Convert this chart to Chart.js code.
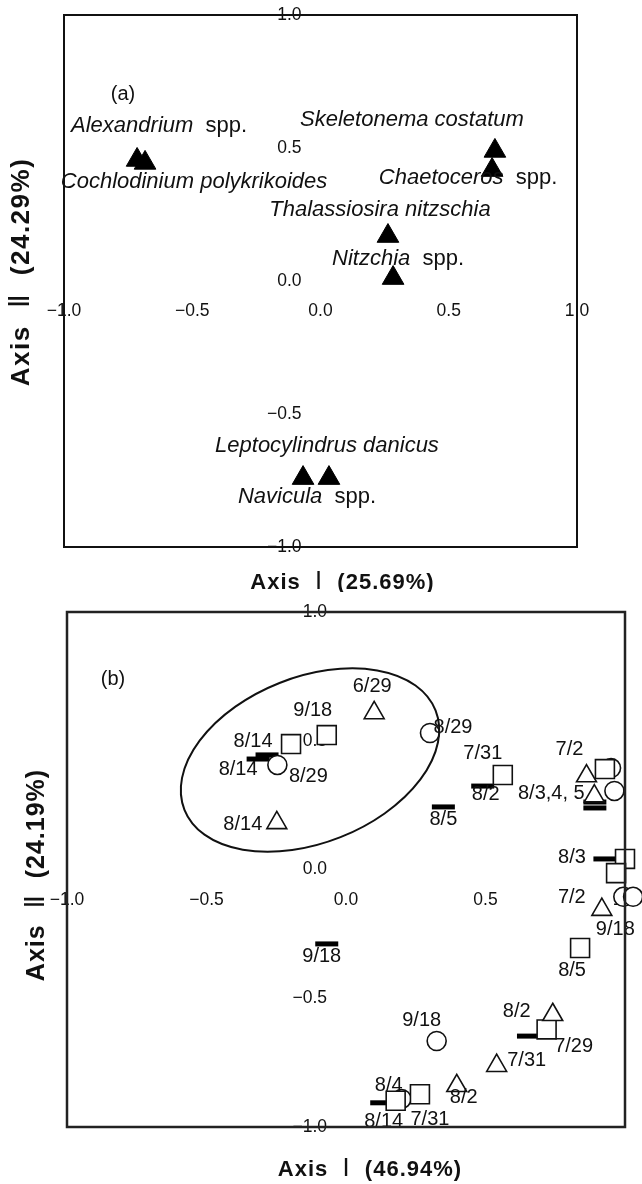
<!DOCTYPE html>
<html>
<head>
<meta charset="utf-8">
<title>CCA ordination</title>
<script src="https://cdn.jsdelivr.net/npm/chart.js@4.4.1/dist/chart.umd.min.js"></script>
<style>
  html, body { margin: 0; padding: 0; background: #fff; }
  canvas { display: block; }
</style>
</head>
<body>
<canvas id="chartSpecies" width="642" height="592"></canvas>
<canvas id="chartSamples" width="642" height="592"></canvas>
<script>
// ── (a) species scores ──
const speciesNames = [
  "Alexandrium spp.", "Cochlodinium polykrikoides", "Skeletonema costatum", "Chaetoceros spp.",
  "Thalassiosira nitzschia", "Nitzchia spp.", "Leptocylindrus danicus", "Navicula spp."
];
const speciesAxis1 = [-0.715, -0.684, 0.680, 0.669, 0.263, 0.283, 0.033, -0.068];
const speciesAxis2 = [0.455, 0.444, 0.489, 0.417, 0.169, 0.011, -0.741, -0.741];

// ── (b) sample scores, one set per station symbol ──
const circleAxis1 = [-0.246, 0.301, 0.950, 0.962, 0.994, 1.029, 0.325, 0.199];
const circleAxis2 = [0.406, 0.530, 0.394, 0.305, -0.106, -0.106, -0.666, -0.891];
const circleDates = ["8/29", "8/29", "", "", "9/18", "", "9/18", ""];

const squareAxis1 = [-0.069, -0.197, 0.562, 0.928, 1.000, 0.968, 0.839, 0.719, 0.265, 0.178];
const squareAxis2 = [0.522, 0.487, 0.367, 0.390, 0.041, -0.014, -0.305, -0.621, -0.873, -0.898];
const squareDates = ["9/18", "", "7/31", "", "", "", "8/5", "7/29", "7/31", "8/4"];

const triangleAxis1 = [0.101, -0.248, 0.862, 0.890, 0.917, 0.741, 0.540, 0.397];
const triangleAxis2 = [0.608, 0.181, 0.363, 0.285, -0.156, -0.564, -0.762, -0.840];
const triangleDates = ["6/29", "8/14", "7/2", "8/3,4, 5", "7/2", "8/2", "7/31", "8/2"];

const barAxis1 = [-0.283, -0.315, 0.490, 0.349, 0.892, 0.892, 0.928, 0.654, 0.128, -0.069];
const barAxis2 = [0.445, 0.429, 0.324, 0.243, 0.262, 0.239, 0.041, -0.647, -0.906, -0.289];
const barDates = ["8/14", "8/14", "8/2", "8/5", "", "", "8/3", "", "8/14", "9/18"];

// outline drawn round the late-summer group (axis units, tilt in degrees)
const groupEllipse = { cx: -0.129, cy: 0.425, rx: 0.484, ry: 0.322, tilt: -21.6 };

const tickValues = [-1, -0.5, 0, 0.5, 1];

// label offsets in px from the marker centre
const speciesTagOffset  = [[22, -34], [49, 19], [-83, -31], [-24, 8], [-8, -26], [5, -19], [-2, -32], [4, 19]];
const circleTagOffset   = [[31, 12], [23, -6], null, null, [-8, 33], null, [-15, -21], null];
const squareTagOffset   = [[-14, -25], null, [-20, -22], null, null, null, [-8, 22], [27, 17], [10, 25], [-7, -15]];
const triangleTagOffset = [[-2, -26], [-34, 2], [-17, -27], [-43, -3], [-30, -12], [-36, -3], [30, -5], [7, 12]];
const barTagOffset      = [[-14, -13], [-20, 10], [3, 8], [0, 13], null, null, [-33, -1], null, [2, 19], [-5, 13]];

const FONT = "'Liberation Sans', Arial, Helvetica, sans-serif";
Chart.defaults.font.family = FONT;
Chart.defaults.color = "#111";

const pts = (xs, ys) => xs.map((x, i) => ({ x, y: ys[i] }));
const fmtTick = v => (v < 0 ? "\u2212" : "") + Math.abs(v).toFixed(1);

// ── text helpers ──
function drawParts(ctx, parts, cx, cy) {
  let w = 0;
  parts.forEach(p => { ctx.font = p.font; p.w = ctx.measureText(p.text).width; w += p.w; });
  let x = cx - w / 2;
  ctx.textAlign = "left";
  ctx.textBaseline = "middle";
  parts.forEach(p => { ctx.font = p.font; ctx.fillText(p.text, x, cy); x += p.w; });
}

function speciesParts(name, size) {
  if (name.endsWith(" spp.")) {
    return [
      { text: name.slice(0, -5), font: `italic ${size}px ${FONT}` },
      { text: "  spp.", font: `${size}px ${FONT}` }
    ];
  }
  return [{ text: name, font: `italic ${size}px ${FONT}` }];
}

// "Axis Ⅰ (..%)" — numeral set lighter than the rest
function titleParts(t) {
  return [
    { text: "Axis  ", font: `bold ${t.size}px ${FONT}` },
    { text: t.numeral, font: `${t.size + 2}px 'DejaVu Sans', ${FONT}` },
    { text: "  " + t.share, font: `bold ${t.size}px ${FONT}` }
  ];
}

// ── plugins ──
const frame = {
  id: "frame",
  afterDraw(chart, args, o) {
    const { ctx, chartArea: a } = chart;
    ctx.save();
    ctx.strokeStyle = o.color || "#111";
    ctx.lineWidth = o.width || 2;
    ctx.strokeRect(a.left, a.top, a.right - a.left, a.bottom - a.top);
    ctx.restore();
  }
};

const pointTags = {
  id: "pointTags",
  afterDatasetsDraw(chart) {
    const ctx = chart.ctx;
    ctx.save();
    ctx.fillStyle = "#111";
    chart.data.datasets.forEach((ds, di) => {
      if (!ds.tags) return;
      const meta = chart.getDatasetMeta(di);
      meta.data.forEach((pt, i) => {
        const text = ds.tags[i];
        const off = ds.tagOffsets[i];
        if (!text || !off) return;
        const parts = ds.species
          ? speciesParts(text, ds.tagSize)
          : [{ text, font: `${ds.tagSize}px ${FONT}` }];
        drawParts(ctx, parts, pt.x + off[0], pt.y + off[1]);
      });
    });
    ctx.restore();
  }
};

const enclosure = {
  id: "enclosure",
  afterDatasetsDraw(chart, args, o) {
    const e = o.ellipse;
    if (!e) return;
    const { ctx, scales: { x, y } } = chart;
    const cx = x.getPixelForValue(e.cx);
    const cy = y.getPixelForValue(e.cy);
    const rx = x.getPixelForValue(e.cx + e.rx) - cx;
    const ry = cy - y.getPixelForValue(e.cy + e.ry);
    ctx.save();
    ctx.beginPath();
    ctx.ellipse(cx, cy, rx, ry, e.tilt * Math.PI / 180, 0, Math.PI * 2);
    ctx.lineWidth = 2;
    ctx.strokeStyle = "#111";
    ctx.stroke();
    ctx.restore();
  }
};

const axisTitles = {
  id: "axisTitles",
  afterDraw(chart, args, o) {
    const { ctx, chartArea: a, scales: { x, y } } = chart;
    const midX = (a.left + a.right) / 2;
    const midY = (a.top + a.bottom) / 2;
    ctx.save();
    ctx.fillStyle = "#111";

    ctx.letterSpacing = o.x.spacing + "px";
    drawParts(ctx, titleParts(o.x), midX + o.x.dx, a.bottom + o.x.dy);

    ctx.save();
    ctx.translate(a.left + o.y.dx, midY + o.y.dy);
    ctx.rotate(-Math.PI / 2);
    ctx.letterSpacing = o.y.spacing + "px";
    drawParts(ctx, titleParts(o.y), 0, 0);
    ctx.restore();

    ctx.letterSpacing = "0px";
    ctx.textAlign = "center";
    ctx.textBaseline = "middle";
    ctx.font = `20px ${FONT}`;
    ctx.fillText(o.panel.text, x.getPixelForValue(o.panel.x), y.getPixelForValue(o.panel.y));
    ctx.restore();
  }
};

function axisOpts(axis) {
  return {
    type: "linear",
    position: "center",
    min: -1,
    max: 1,
    grid: { display: false, drawTicks: false },
    border: { display: false },
    afterBuildTicks: s => { s.ticks = tickValues.map(value => ({ value })); },
    // labels may hang over the frame; keep them out of the layout
    afterFit: s => { s.paddingTop = s.paddingBottom = s.paddingLeft = s.paddingRight = 0; },
    ticks: {
      padding: axis === "x" ? 20 : 19,
      color: "#111",
      font: { size: 17.5 },
      autoSkip: false,
      maxRotation: 0,
      callback: fmtTick
    }
  };
}

function baseOptions(padding, extra) {
  return {
    responsive: false,
    animation: false,
    events: [],
    layout: { padding },
    plugins: Object.assign({ legend: { display: false }, tooltip: { enabled: false } }, extra),
    scales: { x: axisOpts("x"), y: axisOpts("y") }
  };
}

// ── (a) ──
new Chart(document.getElementById("chartSpecies"), {
  type: "scatter",
  data: {
    datasets: [{
      data: pts(speciesAxis1, speciesAxis2),
      pointStyle: "triangle",
      pointRadius: 12.5,
      backgroundColor: "#000",
      borderColor: "#000",
      borderWidth: 1,
      clip: false,
      tags: speciesNames,
      tagOffsets: speciesTagOffset,
      tagSize: 22,
      species: true
    }]
  },
  options: baseOptions({ left: 64, right: 65, top: 15, bottom: 45 }, {
    frame: { color: "#111", width: 2 },
    axisTitles: {
      x: { numeral: "\u2160", share: "(25.69%)", size: 22, spacing: 1, dx: 22, dy: 36 },
      y: { numeral: "\u2161", share: "(24.29%)", size: 26, spacing: 1.5, dx: -42, dy: -9 },
      panel: { text: "(a)", x: -0.77, y: 0.70 }
    }
  }),
  plugins: [frame, pointTags, axisTitles]
});

// ── (b) ──
const openMarker = { backgroundColor: "#fff", borderColor: "#111", borderWidth: 1.6, clip: false, tagSize: 20 };

new Chart(document.getElementById("chartSamples"), {
  type: "scatter",
  data: {
    datasets: [
      Object.assign({
        data: pts(triangleAxis1, triangleAxis2), pointStyle: "triangle", pointRadius: 11.5,
        tags: triangleDates, tagOffsets: triangleTagOffset
      }, openMarker),
      Object.assign({
        data: pts(squareAxis1, squareAxis2), pointStyle: "rect", pointRadius: 13.4,
        tags: squareDates, tagOffsets: squareTagOffset
      }, openMarker),
      Object.assign({
        data: pts(circleAxis1, circleAxis2), pointStyle: "circle", pointRadius: 9.5,
        tags: circleDates, tagOffsets: circleTagOffset
      }, openMarker),
      {
        data: pts(barAxis1, barAxis2), pointStyle: "line", pointRadius: 11.5,
        borderColor: "#000", backgroundColor: "#000", borderWidth: 5, clip: false,
        tags: barDates, tagOffsets: barTagOffset, tagSize: 20
      }
    ]
  },
  options: baseOptions({ left: 67, right: 17, top: 20, bottom: 57 }, {
    frame: { color: "#222", width: 2.5 },
    enclosure: { ellipse: groupEllipse },
    axisTitles: {
      x: { numeral: "\u2160", share: "(46.94%)", size: 22, spacing: 1, dx: 24, dy: 42.5 },
      y: { numeral: "\u2161", share: "(24.19%)", size: 25, spacing: 1, dx: -30, dy: 5.5 },
      panel: { text: "(b)", x: -0.835, y: 0.736 }
    }
  }),
  plugins: [frame, pointTags, enclosure, axisTitles]
});
</script>
</body>
</html>
